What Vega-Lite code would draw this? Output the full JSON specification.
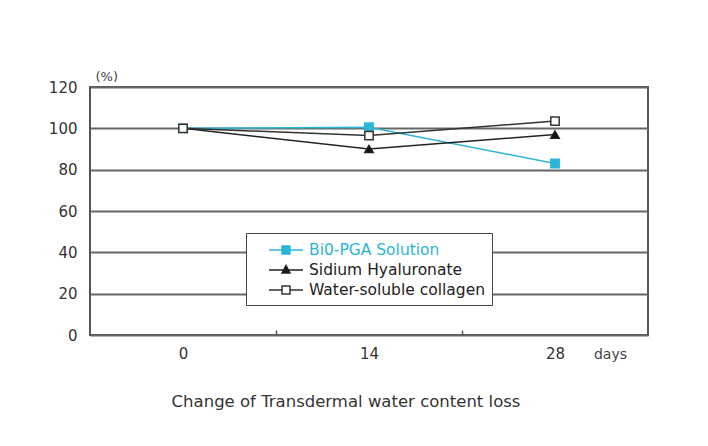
{
  "$schema": "https://vega.github.io/schema/vega-lite/v6.json",
  "autosize": "none",
  "width": 558,
  "height": 248,
  "padding": {"left": 90, "top": 87, "right": 60, "bottom": 111},
  "background": "white",
  "title": {
    "text": "Change of Transdermal water content loss",
    "orient": "bottom",
    "anchor": "middle",
    "dx": -23,
    "offset": 33,
    "font": "DejaVu Sans",
    "fontSize": 16.5,
    "fontWeight": "normal",
    "color": "#333"
  },
  "data": {
    "values": [
      {"series": "Bi0-PGA Solution", "day": 0, "value": 100},
      {"series": "Bi0-PGA Solution", "day": 14, "value": 100.5},
      {"series": "Bi0-PGA Solution", "day": 28, "value": 83},
      {"series": "Sidium Hyaluronate", "day": 0, "value": 100},
      {"series": "Sidium Hyaluronate", "day": 14, "value": 90},
      {"series": "Sidium Hyaluronate", "day": 28, "value": 97},
      {"series": "Water-soluble collagen", "day": 0, "value": 100},
      {"series": "Water-soluble collagen", "day": 14, "value": 96.5},
      {"series": "Water-soluble collagen", "day": 28, "value": 103.5}
    ]
  },
  "encoding": {
    "x": {
      "field": "day",
      "type": "quantitative",
      "scale": {"domain": [-7, 35], "nice": false, "zero": false},
      "axis": {
        "values": [0, 7, 14, 21, 28],
        "labelExpr": "datum.value % 14 === 0 ? datum.label : ''",
        "grid": false,
        "domain": false,
        "tickSize": -5,
        "tickWidth": 1.5,
        "tickColor": "#555",
        "tickOpacity": {"condition": {"test": "datum.value % 14 === 7", "value": 1}, "value": 0},
        "labelPadding": 16,
        "labelFont": "DejaVu Sans",
        "labelFontSize": 15,
        "labelColor": "#333",
        "title": "days",
        "titleFont": "DejaVu Sans",
        "titleFontSize": 14,
        "titleFontWeight": "normal",
        "titleColor": "#444",
        "titleX": 520,
        "titleY": 19,
        "titleAlign": "center",
        "titleBaseline": "middle"
      }
    },
    "y": {
      "field": "value",
      "type": "quantitative",
      "scale": {"domain": [0, 120], "nice": false},
      "axis": {
        "values": [0, 20, 40, 60, 80, 100, 120],
        "grid": true,
        "gridColor": "#666",
        "gridWidth": 2,
        "domain": false,
        "ticks": false,
        "labelPadding": 13,
        "labelFont": "DejaVu Sans",
        "labelFontSize": 15,
        "labelColor": "#333",
        "title": "(%)",
        "titleAngle": 0,
        "titleFont": "DejaVu Sans",
        "titleFontSize": 13,
        "titleFontWeight": "normal",
        "titleColor": "#444",
        "titleX": 5,
        "titleY": -4,
        "titleAlign": "left",
        "titleBaseline": "bottom"
      }
    }
  },
  "layer": [
    {
      "mark": {"type": "line", "strokeWidth": 1.5},
      "encoding": {
        "stroke": {
          "field": "series",
          "type": "nominal",
          "scale": {
            "domain": ["Bi0-PGA Solution", "Sidium Hyaluronate", "Water-soluble collagen"],
            "range": ["#2cb6d6", "#222222", "#333333"]
          },
          "legend": {
            "title": null,
            "orient": "none",
            "legendX": 156,
            "legendY": 146,
            "fillColor": "white",
            "strokeColor": "#444",
            "padding": 6,
            "symbolOffset": 23,
            "symbolSize": 400,
            "symbolStrokeWidth": 1.5,
            "labelFont": "DejaVu Sans",
            "labelFontSize": 15.5,
            "labelOffset": 12,
            "labelLimit": 400,
            "rowPadding": 0,
            "labelExpr": "datum.label + '          '",
            "encode": {
              "symbols": {
                "update": {
                  "shape": {"signal": "datum.value === 'Sidium Hyaluronate' ? 'M-1.7,0H1.7M0,-0.45L0.4,0.3H-0.4Z' : datum.value === 'Bi0-PGA Solution' ? 'M-1.7,0H1.7M-0.4,-0.4H0.4V0.4H-0.4Z' : 'M-1.7,0H-0.4M0.4,0H1.7M-0.4,-0.4H0.4V0.4H-0.4Z'"},
                  "fill": {"signal": "datum.value === 'Bi0-PGA Solution' ? '#2cb6d6' : datum.value === 'Sidium Hyaluronate' ? '#111111' : '#ffffff'"},
                  "stroke": {"signal": "datum.value === 'Bi0-PGA Solution' ? '#2cb6d6' : '#222222'"},
                  "opacity": {"value": 1}
                }
              },
              "labels": {
                "update": {
                  "fill": {"signal": "datum.value === 'Bi0-PGA Solution' ? '#2cb6d6' : '#222222'"}
                }
              }
            }
          }
        }
      }
    },
    {
      "mark": {"type": "point", "size": 70, "strokeWidth": 1.5, "opacity": 1},
      "encoding": {
        "shape": {
          "field": "series",
          "type": "nominal",
          "scale": {
            "domain": ["Bi0-PGA Solution", "Sidium Hyaluronate", "Water-soluble collagen"],
            "range": ["square", "triangle-up", "square"]
          },
          "legend": null
        },
        "fill": {
          "field": "series",
          "type": "nominal",
          "scale": {
            "domain": ["Bi0-PGA Solution", "Sidium Hyaluronate", "Water-soluble collagen"],
            "range": ["#2cb6d6", "#111111", "#ffffff"]
          },
          "legend": null
        },
        "stroke": {
          "field": "series",
          "type": "nominal"
        }
      }
    }
  ],
  "resolve": {"scale": {"shape": "independent", "fill": "independent"}, "legend": {"shape": "independent", "fill": "independent"}},
  "config": {
    "view": {"stroke": "#555", "strokeWidth": 2},
    "font": "DejaVu Sans"
  }
}
